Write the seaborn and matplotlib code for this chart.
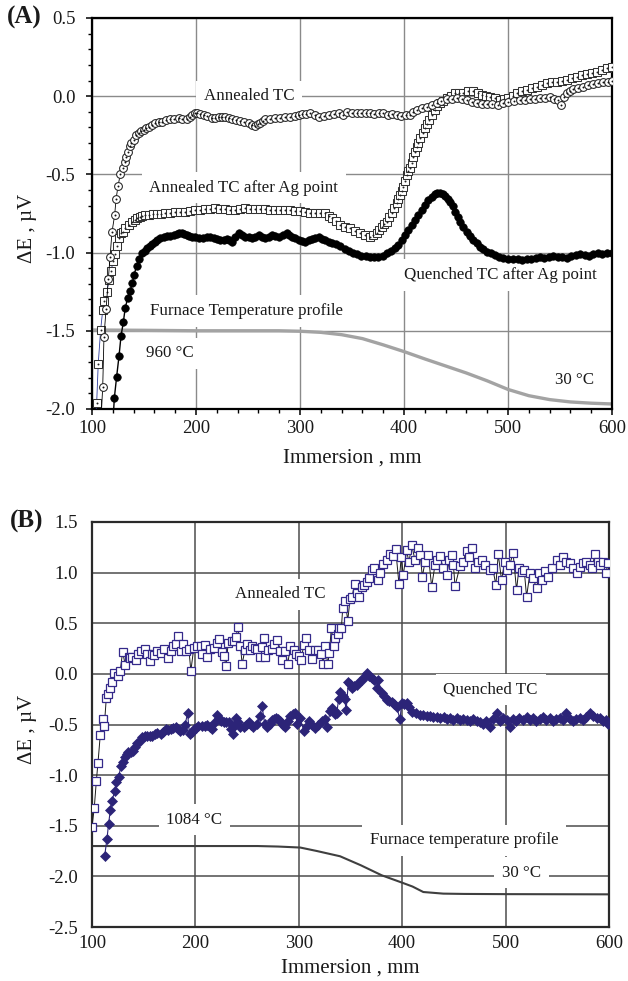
import numpy as np
import matplotlib
matplotlib.use("Agg")
import matplotlib.pyplot as plt
from matplotlib.ticker import MultipleLocator, FormatStrFormatter
import seaborn as sns

sns.set_theme(style="white")
plt.rcParams["font.family"] = ["Liberation Serif", "DejaVu Serif"]
plt.rcParams["axes.unicode_minus"] = False
plt.rcParams["mathtext.fontset"] = "stix"

# ---------------- (A) silver point runs: immersion (mm), dE (uV) ----------------
annealed_a = np.array([
    [108, -2.15], [110.3, -1.86], [111.5, -1.54], [113.5, -1.36], [115.7, -1.17], [117.3, -1.03],
    [119.2, -0.87], [121.8, -0.76], [123.1, -0.66], [125, -0.575], [127.2, -0.50], [129.5, -0.46],
    [131.4, -0.42], [133, -0.39], [134.6, -0.355], [136.5, -0.32], [137.8, -0.30], [140, -0.28],
    [142.5, -0.25], [144.9, -0.234], [147, -0.225], [149.7, -0.217], [152, -0.205], [154.5, -0.195],
    [157.5, -0.185], [160.9, -0.174], [164, -0.168], [167.3, -0.163], [171, -0.155], [175.3, -0.149],
    [179, -0.145], [183.3, -0.142], [187, -0.146], [191.3, -0.149], [194, -0.135], [196.2, -0.121],
    [199, -0.11], [201, -0.106], [204, -0.112], [207.4, -0.121], [211, -0.13], [215.4, -0.142],
    [218.5, -0.138], [221.8, -0.136], [225, -0.133], [228.2, -0.132], [231.5, -0.14], [234.6, -0.149],
    [238.5, -0.153], [242.6, -0.157], [246.5, -0.165], [250.6, -0.174], [254, -0.183], [257, -0.191],
    [259.5, -0.18], [261.9, -0.174], [264, -0.16], [266.7, -0.149], [271.5, -0.145], [276.3, -0.142],
    [281, -0.139], [285.9, -0.136], [290.5, -0.131], [295.5, -0.127], [298.7, -0.12], [301.9, -0.114],
    [306, -0.112], [309.9, -0.11], [314, -0.12], [318, -0.132], [322.8, -0.126], [327.6, -0.121],
    [332.4, -0.115], [337.2, -0.11], [341.7, -0.12], [345, -0.10], [350, -0.105], [354.5, -0.105],
    [359, -0.11], [363, -0.105], [367.3, -0.11], [371.5, -0.115], [376, -0.11], [380.2, -0.11],
    [384.5, -0.12], [388.8, -0.115], [393, -0.12], [397, -0.125], [401.5, -0.12], [405.8, -0.12],
    [409, -0.10], [412.2, -0.088], [417, -0.075], [421.8, -0.067], [426.6, -0.055], [431.4, -0.046],
    [436, -0.032], [441, -0.02], [445.8, -0.018], [450.7, -0.014], [455.5, -0.018], [460.3, -0.024],
    [465, -0.035], [469.9, -0.046], [474.7, -0.048], [479.5, -0.05], [485, -0.052], [490.7, -0.056],
    [495.5, -0.045], [500.4, -0.035], [506, -0.03], [511.6, -0.024], [516.4, -0.022], [521.2, -0.02],
    [526, -0.017], [530.8, -0.014], [535.6, -0.01], [540.4, -0.007], [544.4, -0.015], [548.4, -0.024],
    [550.5, -0.056], [553.9, -0.007], [556.4, 0.023], [559.6, 0.035], [562.9, 0.044], [567.7, 0.052],
    [572.5, 0.061], [577.3, 0.07], [582.1, 0.078], [586.9, 0.085], [591.7, 0.093], [596, 0.09],
    [600, 0.10],
])

annealed_ag_a = np.array([
    [103, -2.1], [104.5, -1.96], [106, -1.71], [108.3, -1.495], [110.3, -1.367], [111.9, -1.31],
    [114, -1.25], [116.6, -1.175], [118.3, -1.116], [120.5, -1.054], [122, -1.01], [124.3, -0.958],
    [126.3, -0.909], [128.2, -0.877], [130, -0.87], [132, -0.845], [135.3, -0.824], [138.5, -0.802],
    [141, -0.79], [143.3, -0.781], [145.7, -0.773], [148.1, -0.766], [151.3, -0.763], [154.5, -0.76],
    [158.5, -0.756], [162.5, -0.753], [166.5, -0.751], [170.5, -0.749], [175.3, -0.744], [180.1, -0.739],
    [184.9, -0.739], [189.7, -0.739], [194.5, -0.733], [199.4, -0.728], [204.2, -0.726], [209, -0.724],
    [213.8, -0.72], [218.6, -0.717], [223.4, -0.72], [228.2, -0.724], [233, -0.726], [237.8, -0.728],
    [242.6, -0.722], [247.4, -0.717], [252.2, -0.72], [257, -0.724], [261.8, -0.724], [266.7, -0.724],
    [271.5, -0.726], [276.3, -0.728], [281.1, -0.728], [285.9, -0.728], [290.7, -0.73], [295.5, -0.732],
    [300.3, -0.735], [305.1, -0.739], [309.9, -0.744], [314.7, -0.749], [319.5, -0.749], [324.4, -0.749],
    [327.6, -0.765], [330.8, -0.781], [334.8, -0.80], [338.8, -0.824], [343.4, -0.835], [348.1, -0.845],
    [352.9, -0.86], [357.7, -0.873], [362.5, -0.885], [367.3, -0.898], [370.5, -0.89], [373.8, -0.877],
    [376.2, -0.855], [378.6, -0.834], [381, -0.818], [383.4, -0.802], [385.8, -0.775], [388.2, -0.749],
    [390.6, -0.717], [393, -0.685], [394.6, -0.66], [396.2, -0.632], [397.8, -0.605], [399.4, -0.578],
    [401, -0.54], [402.6, -0.504], [404.2, -0.48], [405.8, -0.461], [407.4, -0.425], [409, -0.387],
    [410.6, -0.357], [412.2, -0.327], [413.8, -0.298], [415.4, -0.269], [417.8, -0.237], [420.2, -0.205],
    [422.3, -0.178], [424.4, -0.152], [427.1, -0.12], [429.8, -0.088], [432.2, -0.066], [434.7, -0.046],
    [437.8, -0.03], [441, -0.014], [445, 0.002], [449.1, 0.018], [453.1, 0.02], [457.1, 0.023],
    [461.9, 0.03], [466.7, 0.035], [470.7, 0.02], [474.7, 0.008], [478.7, 0.003], [482.7, -0.003],
    [487.5, -0.013], [492.3, -0.024], [496.4, -0.019], [500.4, -0.014], [504.4, 0.002], [508.4, 0.018],
    [513.2, 0.03], [518, 0.04], [522.8, 0.05], [527.6, 0.061], [532.4, 0.072], [537.2, 0.082],
    [542, 0.088], [546.8, 0.093], [551.6, 0.10], [556.4, 0.104], [561.2, 0.115], [566.1, 0.125],
    [570.9, 0.133], [575.7, 0.142], [580.5, 0.15], [585.3, 0.157], [590.1, 0.168], [594.9, 0.178],
    [599.7, 0.189],
])

quenched_ag_a = np.array([
    [120, -2.1], [121.5, -1.928], [123.7, -1.793], [126, -1.66], [127.9, -1.533], [130.1, -1.446],
    [132, -1.352], [134.3, -1.292], [136.5, -1.245], [138.8, -1.197], [140.4, -1.143], [143, -1.084],
    [145.5, -1.043], [147.8, -1.005], [150.5, -0.99], [152.9, -0.973], [155.3, -0.96], [157.7, -0.945],
    [160.1, -0.932], [162.5, -0.92], [165.7, -0.91], [168.9, -0.898], [172.1, -0.896], [175.3, -0.894],
    [178.5, -0.887], [181.7, -0.881], [184.1, -0.877], [186.5, -0.873], [188.9, -0.88], [191.3, -0.888],
    [193.7, -0.893], [196.2, -0.898], [199.4, -0.903], [202.6, -0.909], [206.6, -0.904], [210.6, -0.898],
    [213.8, -0.903], [217, -0.909], [220.2, -0.914], [223.4, -0.92], [226.6, -0.918], [229.8, -0.915],
    [232.2, -0.922], [234.6, -0.93], [237.8, -0.90], [241, -0.873], [244.2, -0.885], [247.4, -0.898],
    [250.6, -0.903], [253.8, -0.909], [257, -0.898], [260.3, -0.888], [263.5, -0.898], [266.7, -0.909],
    [269.9, -0.898], [273.1, -0.888], [276.3, -0.893], [279.5, -0.898], [283.5, -0.885], [287.5, -0.873],
    [289.9, -0.885], [292.3, -0.898], [295.5, -0.909], [298.7, -0.92], [301.9, -0.925], [305.1, -0.93],
    [308.3, -0.922], [311.5, -0.915], [314.7, -0.909], [317.9, -0.903], [321.2, -0.911], [324.4, -0.92],
    [327.6, -0.93], [330.8, -0.941], [334.8, -0.946], [338.8, -0.96], [343, -0.975], [346.8, -0.99],
    [351, -1.0], [355, -1.01], [359, -1.02], [363, -1.025], [367.3, -1.03], [371.3, -1.03],
    [375.4, -1.03], [379.4, -1.02], [383.4, -1.005], [387.4, -0.99], [391.4, -0.973], [394.6, -0.95],
    [397.8, -0.92], [401, -0.888], [404.2, -0.856], [407.4, -0.823], [410.6, -0.791], [413.8, -0.76],
    [417, -0.728], [420.2, -0.696], [423.4, -0.664], [426.6, -0.642], [429.8, -0.625], [432.2, -0.621],
    [434.7, -0.621], [437.1, -0.628], [439.5, -0.638], [441.9, -0.655], [444.3, -0.674], [446.7, -0.705],
    [449.1, -0.738], [451.5, -0.77], [453.9, -0.802], [457.1, -0.835], [460.3, -0.866], [463.5, -0.895],
    [466.7, -0.92], [469.9, -0.942], [473.1, -0.962], [476.3, -0.98], [479.5, -0.994], [483.5, -1.005],
    [487.5, -1.015], [491.5, -1.026], [495.5, -1.036], [500.4, -1.04], [505.2, -1.043], [509.5, -1.043],
    [513.7, -1.045], [518, -1.043], [522.3, -1.04], [526.5, -1.035], [530.8, -1.03], [535, -1.036],
    [539.3, -1.028], [543.6, -1.02], [547.9, -1.027], [552.1, -1.03], [556.4, -1.035], [560.7, -1.02],
    [565, -1.018], [569.3, -1.01], [573.6, -1.015], [577.8, -1.02], [582.1, -1.01], [586.4, -1.005],
    [590.6, -1.008], [594.9, -1.005], [599.7, -1.0],
])

furnace_a_x = [100, 150, 200, 250, 280, 300, 320, 340, 360, 380, 400, 420, 440, 460, 480, 500, 520, 540, 560, 580, 600]
furnace_a_y = [-1.495, -1.497, -1.5, -1.5, -1.5, -1.503, -1.51, -1.525, -1.55, -1.59, -1.633, -1.68, -1.725,
               -1.77, -1.82, -1.875, -1.915, -1.94, -1.955, -1.963, -1.968]

# ---------------- (B) copper point runs ----------------
annealed_b = np.array([
    [100, -1.512], [102.2, -1.32], [104.2, -1.057], [105.8, -0.876], [108, -0.603], [110.3, -0.448],
    [111.9, -0.514], [113.8, -0.243], [115.4, -0.194], [117, -0.144], [119.3, -0.078], [121.5, 0.011],
    [125.1, -0.022], [127.3, 0.03], [129.6, 0.218], [132.2, 0.086], [135.4, 0.162], [136.7, 0.155],
    [138.6, 0.168], [142.2, 0.135], [144.7, 0.194], [147, 0.227], [151.2, 0.243], [153.4, 0.201],
    [155.7, 0.128], [157.6, 0.201], [159.9, 0.188], [163.1, 0.227], [166.3, 0.211], [169.5, 0.243],
    [173.7, 0.161], [176, 0.227], [178.6, 0.276], [180.8, 0.299], [183.4, 0.375], [185.6, 0.227],
    [187.9, 0.293], [190.5, 0.227], [193.7, 0.243], [195.6, 0.03], [198.5, 0.26], [201.8, 0.276],
    [205, 0.276], [206.6, 0.201], [209.2, 0.286], [211.4, 0.168], [214.6, 0.243], [217.9, 0.26],
    [221.1, 0.309], [223.3, 0.342], [225.9, 0.22], [227.5, 0.178], [229.8, 0.079], [231.7, 0.309],
    [235, 0.326], [237.2, 0.326], [239.4, 0.365], [241, 0.467], [243.6, 0.276], [245.2, 0.095],
    [247.8, 0.234], [250, 0.293], [252.6, 0.234], [254.9, 0.276], [257.5, 0.26], [259.7, 0.243],
    [262, 0.168], [264.5, 0.266], [266.2, 0.352], [267.8, 0.168], [270.3, 0.234], [274.2, 0.243],
    [276.5, 0.293], [279.4, 0.332], [282.3, 0.227], [283.9, 0.135], [287.1, 0.227], [289.3, 0.095],
    [291.9, 0.276], [295.1, 0.234], [297.4, 0.194], [300, 0.178], [302.2, 0.135], [304.8, 0.286],
    [307, 0.352], [309.6, 0.234], [312.9, 0.145], [315.4, 0.234], [318.7, 0.234], [321.9, 0.194],
    [323.5, 0.102], [325.7, 0.276], [328, 0.095], [329.6, 0.211], [331.5, 0.457], [333.8, 0.276],
    [335.4, 0.352], [337.7, 0.391], [339.3, 0.457], [341.2, 0.457], [342.5, 0.648], [345.1, 0.72],
    [347.3, 0.523], [349.6, 0.74], [351.5, 0.76], [353.9, 0.887], [356, 0.80], [358, 0.762],
    [360.9, 0.86], [363.3, 0.88], [365.7, 0.91], [368, 0.95], [370.5, 1.025], [373, 1.05],
    [376.9, 0.926], [379, 1.00], [381.7, 1.085], [385, 1.12], [388.2, 1.183], [391, 1.16],
    [393.7, 1.232], [396.9, 0.886], [399, 1.15], [401.1, 0.975], [404.3, 1.222], [406.5, 1.10],
    [409.2, 1.272], [412.4, 1.124], [415.6, 1.24], [417.5, 1.17], [419.5, 0.96], [422, 1.10],
    [425.3, 1.175], [428.5, 0.861], [431.7, 1.074], [434, 1.12], [436.5, 1.163], [439.5, 1.05],
    [443, 0.976], [445.5, 1.12], [447.8, 1.175], [449.5, 1.08], [451.1, 0.866], [455.9, 1.065],
    [458.5, 1.10], [462.3, 1.213], [464.5, 1.15], [467.1, 1.24], [470.4, 1.048], [473.5, 1.10],
    [476.8, 1.124], [480, 1.08], [484.8, 1.025], [487.5, 1.05], [490.6, 0.877], [492.9, 1.183],
    [496.1, 0.926], [499, 1.10], [501, 1.025], [504, 1.08], [507.3, 1.19], [510.6, 0.827],
    [513, 1.05], [515.5, 1.008], [518, 1.03], [520.3, 0.762], [523.5, 0.992], [526.5, 0.95],
    [530, 0.844], [532.5, 1.00], [534.8, 0.926], [538, 1.02], [541.3, 0.959], [545, 1.05],
    [549.3, 1.124], [552.5, 1.08], [555.7, 1.156], [558.5, 1.10], [562.2, 1.091], [565.5, 1.05],
    [568.6, 0.992], [571.8, 1.06], [575, 1.091], [578, 1.10], [581.5, 1.074], [584, 1.05],
    [586.3, 1.183], [589, 1.10], [591.1, 1.074], [594, 1.10], [596.9, 0.992], [599.2, 1.098],
])

quenched_b = np.array([
    [112.2, -1.801], [114.5, -1.627], [116, -1.485], [117.7, -1.347], [119.3, -1.255], [121.9, -1.159],
    [123.5, -1.067], [125.7, -1.018], [128, -0.912], [129.9, -0.87], [131.9, -0.819], [133.5, -0.79],
    [135.1, -0.776], [137.3, -0.771], [139.6, -0.766], [141.5, -0.72], [143.8, -0.678], [146.7, -0.66],
    [148.6, -0.628], [151, -0.616], [153.4, -0.612], [156, -0.616], [158.3, -0.612], [160.6, -0.59],
    [163.1, -0.579], [166.3, -0.589], [168.7, -0.57], [171.2, -0.546], [173.6, -0.55], [176, -0.546],
    [178.4, -0.535], [180.8, -0.523], [182.8, -0.54], [184.7, -0.562], [187.9, -0.556], [190.1, -0.50],
    [192.4, -0.388], [194.3, -0.595], [196.4, -0.57], [198.5, -0.546], [200.6, -0.53], [202.7, -0.513],
    [206.6, -0.513], [209, -0.51], [211.4, -0.503], [213.8, -0.52], [216.2, -0.546], [218.6, -0.48],
    [221.1, -0.405], [222.7, -0.44], [224.3, -0.47], [227.5, -0.48], [229.9, -0.48], [232.3, -0.48],
    [234.4, -0.54], [236.5, -0.595], [238, -0.50], [239.4, -0.431], [241.5, -0.48], [243.6, -0.523],
    [246.8, -0.523], [249.2, -0.50], [251.7, -0.48], [253.8, -0.50], [255.9, -0.523], [259.7, -0.497],
    [262.1, -0.42], [264.5, -0.322], [267.1, -0.497], [269.4, -0.523], [271.8, -0.49], [274.2, -0.457],
    [276.2, -0.445], [278.1, -0.431], [280.2, -0.45], [282.3, -0.464], [284.4, -0.50], [286.5, -0.523],
    [289.2, -0.47], [291.9, -0.414], [294.4, -0.40], [296.8, -0.391], [298.4, -0.49], [301.3, -0.44],
    [304.8, -0.562], [307.5, -0.51], [310.3, -0.464], [312.8, -0.50], [315.4, -0.53], [319, -0.50],
    [322.5, -0.464], [325, -0.45], [327, -0.523], [330.6, -0.365], [332.6, -0.341], [334.8, -0.398],
    [336.7, -0.39], [338.5, -0.25], [340.2, -0.174], [343.1, -0.219], [344.4, -0.25], [345.8, -0.358],
    [348, -0.078], [349.5, -0.10], [351.2, -0.143], [353.5, -0.12], [356, -0.11], [358.5, -0.08],
    [360.9, -0.061], [363.3, -0.03], [365.7, 0.004], [368, -0.02], [370.5, -0.045], [373, -0.06],
    [376, -0.143], [376.9, -0.061], [380.2, -0.193], [382.6, -0.22], [385, -0.259], [387.5, -0.27],
    [389.9, -0.276], [392.3, -0.30], [394.7, -0.325], [397.9, -0.45], [399.5, -0.292], [402, -0.30],
    [404.3, -0.292], [406.7, -0.33], [409.2, -0.375], [413, -0.39], [417.2, -0.408], [420.5, -0.41],
    [423.8, -0.42], [427, -0.42], [430.1, -0.425], [433.5, -0.43], [436.8, -0.44], [440, -0.43],
    [443, -0.45], [446.2, -0.44], [449.5, -0.46], [452.7, -0.44], [456, -0.46], [459, -0.45],
    [462.3, -0.458], [465.5, -0.47], [468.7, -0.45], [472, -0.47], [475.2, -0.48], [478.4, -0.49],
    [481.5, -0.47], [484.7, -0.52], [488, -0.45], [491.3, -0.39], [494.5, -0.47], [497.7, -0.44],
    [501, -0.458], [504, -0.52], [507, -0.45], [510, -0.47], [513, -0.44], [516.5, -0.46],
    [520.3, -0.425], [523.5, -0.46], [526.6, -0.44], [529.8, -0.47], [533, -0.45], [536.3, -0.425],
    [539.5, -0.46], [542.7, -0.44], [546, -0.47], [549.2, -0.45], [552.5, -0.44], [555.7, -0.46],
    [558.9, -0.39], [562, -0.45], [565.3, -0.47], [568.5, -0.45], [571.7, -0.44], [575, -0.46],
    [578.2, -0.43], [581.5, -0.39], [584.7, -0.42], [588, -0.44], [591.1, -0.44], [594.3, -0.47],
    [597, -0.46], [599.2, -0.49],
])

furnace_b_x = [100, 260, 280, 301.5, 317.4, 339.9, 360, 380.2, 398.1, 410, 420.4, 439.7, 460, 500, 600]
furnace_b_y = [-1.7, -1.7, -1.705, -1.715, -1.749, -1.801, -1.89, -1.989, -2.055, -2.1, -2.154, -2.17,
               -2.173, -2.175, -2.177]

x_ticks = [100, 200, 300, 400, 500, 600]
xlabel = "Immersion , mm"
ylabel = "ΔE , µV"

TICK_FS = 13.5
LABEL_FS = 15
NOTE_FS = 12.2
NAVY = "#34298a"
NAVY_FILL = "#2c2478"

fig = plt.figure(figsize=(6.28, 9.81), dpi=100)
ax_a = fig.add_axes([0.1465, 0.5831, 0.828, 0.3986])
ax_b = fig.add_axes([0.1465, 0.0550, 0.8232, 0.4129])


def series(ax, data, z=3, **kw):
    sns.lineplot(x=data[:, 0], y=data[:, 1], ax=ax, estimator=None, sort=False,
                 legend=False, zorder=z, **kw)


def note(ax, x, y, s):
    ax.text(x, y, s, ha="center", va="center", fontsize=NOTE_FS, color="#1a1a1a", zorder=1.5,
            bbox=dict(boxstyle="square,pad=0.45", facecolor="white", edgecolor="none"))


# ---------- panel A ----------
sns.lineplot(x=furnace_a_x, y=furnace_a_y, ax=ax_a, color="#a3a3a3", linewidth=2.4,
             estimator=None, sort=False, zorder=2)
series(ax_a, quenched_ag_a, z=3, color="black", linewidth=1.0, marker="o", markersize=5.4,
       markerfacecolor="black", markeredgecolor="black", markeredgewidth=0.5)
series(ax_a, annealed_ag_a, z=4, color="#2b3a9a", linewidth=0.6, marker="s", markersize=5.2,
       markerfacecolor="white", markeredgecolor="#333333", markeredgewidth=0.75)
sns.scatterplot(x=annealed_ag_a[:, 0], y=annealed_ag_a[:, 1], ax=ax_a, marker="o", s=2,
                color="#222222", linewidth=0, zorder=4.5, legend=False)
series(ax_a, annealed_a, z=5, color="black", linewidth=0.6, marker="o", markersize=5.6,
       markerfacecolor="white", markeredgecolor="#222222", markeredgewidth=0.75)
sns.scatterplot(x=annealed_a[:, 0], y=annealed_a[:, 1], ax=ax_a, marker="o", s=2,
                color="#111111", linewidth=0, zorder=5.5, legend=False)

note(ax_a, 251, 0.0, "Annealed TC")
note(ax_a, 246, -0.585, "Annealed TC after Ag point")
note(ax_a, 493, -1.143, "Quenched TC after Ag point")
note(ax_a, 249, -1.373, "Furnace Temperature profile")
note(ax_a, 174.5, -1.644, "960 °C")
note(ax_a, 564, -1.815, "30 °C")

ax_a.set_xlim(100, 600)
ax_a.set_ylim(-2.0, 0.5)
ax_a.set_xticks(x_ticks)
ax_a.xaxis.set_minor_locator(MultipleLocator(20))
ax_a.yaxis.set_major_locator(MultipleLocator(0.5))
ax_a.yaxis.set_minor_locator(MultipleLocator(0.1))
ax_a.yaxis.set_major_formatter(FormatStrFormatter("%.1f"))
ax_a.grid(True, which="major", color="#8a8a8a", linewidth=1.0)
ax_a.set_axisbelow(True)
ax_a.tick_params(axis="both", which="major", direction="out", length=4.5, width=1.1,
                 color="black", labelsize=TICK_FS, labelcolor="#1a1a1a")
ax_a.tick_params(axis="both", which="minor", direction="out", length=3, width=1.0, color="black")
ax_a.tick_params(axis="y", which="major", pad=7.5)
ax_a.tick_params(axis="x", which="major", pad=3.5)
ax_a.tick_params(which="both", bottom=True, left=True, top=False, right=False)
for sp in ax_a.spines.values():
    sp.set_color("black")
    sp.set_linewidth(1.6)

# ---------- panel B ----------
sns.lineplot(x=furnace_b_x, y=furnace_b_y, ax=ax_b, color="#3f3f3f", linewidth=1.5,
             estimator=None, sort=False, zorder=2)
series(ax_b, quenched_b, z=3, color=NAVY_FILL, linewidth=0.8, marker="D", markersize=4.8,
       markerfacecolor=NAVY_FILL, markeredgecolor=NAVY_FILL, markeredgewidth=0.5)
series(ax_b, annealed_b, z=4, color="#1a1a1a", linewidth=0.7, marker="s", markersize=5.4,
       markerfacecolor="white", markeredgecolor=NAVY, markeredgewidth=0.9)

note(ax_b, 282, 0.785, "Annealed TC")
note(ax_b, 485.6, -0.154, "Quenched TC")
note(ax_b, 199, -1.439, "1084 °C")
note(ax_b, 459.8, -1.643, "Furnace temperature profile")
note(ax_b, 515.3, -1.962, "30 °C")

ax_b.set_xlim(100, 600)
ax_b.set_ylim(-2.5, 1.5)
ax_b.set_xticks(x_ticks)
ax_b.yaxis.set_major_locator(MultipleLocator(0.5))
ax_b.yaxis.set_major_formatter(FormatStrFormatter("%.1f"))
ax_b.grid(True, which="major", color="#4d4d4d", linewidth=1.1)
ax_b.set_axisbelow(True)
ax_b.tick_params(axis="both", which="major", length=0, labelsize=TICK_FS, labelcolor="#1a1a1a")
ax_b.tick_params(axis="y", which="major", pad=10)
ax_b.tick_params(axis="x", which="major", pad=6)
for sp in ax_b.spines.values():
    sp.set_color("#2a2a2a")
    sp.set_linewidth(1.6)

for ax, lx, ly, ycen in ((ax_a, -0.106, -0.102, 0.463), (ax_b, -0.106, -0.077, 0.489)):
    ax.set_xlabel(xlabel, fontsize=LABEL_FS, color="#1a1a1a")
    ax.set_ylabel(ylabel, fontsize=LABEL_FS, color="#1a1a1a")
    ax.xaxis.set_label_coords(0.5, ly)
    ax.yaxis.set_label_coords(lx, ycen)

fig.text(0.011, 0.9817, "(A)", fontsize=18, fontweight="bold", ha="left", va="center", color="#1a1a1a")
fig.text(0.015, 0.4685, "(B)", fontsize=18, fontweight="bold", ha="left", va="center", color="#1a1a1a")

fig.savefig("out.png", dpi=100, facecolor="white")
